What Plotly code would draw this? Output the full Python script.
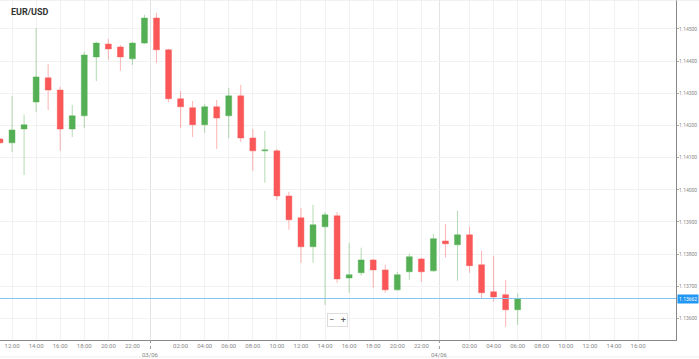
import plotly.graph_objects as go

# hours relative to 03/06 00:00
hours = list(range(-13, 31))
opens = [1.14158, 1.14146, 1.14189, 1.14273, 1.14348, 1.14310, 1.14189, 1.14230, 1.14413, 1.14453,
         1.14444, 1.14407, 1.14456, 1.14534, 1.14435, 1.14283, 1.14255, 1.14202, 1.14258, 1.14230,
         1.14292, 1.14161, 1.14121, 1.14121, 1.13981, 1.13913, 1.13823, 1.13885, 1.13919, 1.13726,
         1.13742, 1.13782, 1.13751, 1.13689, 1.13745, 1.13785, 1.13748, 1.13841, 1.13829, 1.13860,
         1.13767, 1.13683, 1.13674, 1.13627]
highs = [1.14161, 1.14292, 1.14233, 1.14503, 1.14391, 1.14320, 1.14264, 1.14429, 1.14460, 1.14469,
         1.14450, 1.14460, 1.14544, 1.14550, 1.14438, 1.14307, 1.14276, 1.14267, 1.14279, 1.14317,
         1.14326, 1.14189, 1.14183, 1.14127, 1.13994, 1.13944, 1.13953, 1.13931, 1.13931, 1.13835,
         1.13820, 1.13785, 1.13767, 1.13745, 1.13801, 1.13789, 1.13863, 1.13894, 1.13935, 1.13885,
         1.13810, 1.13795, 1.13720, 1.13677]
lows = [1.14143, 1.14118, 1.14046, 1.14242, 1.14248, 1.14121, 1.14164, 1.14192, 1.14338, 1.14404,
        1.14370, 1.14388, 1.14453, 1.14394, 1.14273, 1.14192, 1.14164, 1.14177, 1.14127, 1.14161,
        1.14149, 1.14059, 1.14022, 1.13969, 1.13876, 1.13773, 1.13773, 1.13642, 1.13711, 1.13680,
        1.13733, 1.13695, 1.13680, 1.13686, 1.13720, 1.13714, 1.13745, 1.13789, 1.13717, 1.13742,
        1.13661, 1.13652, 1.13574, 1.13580]
closes = [1.14146, 1.14186, 1.14202, 1.14351, 1.14310, 1.14189, 1.14230, 1.14419, 1.14456, 1.14438,
          1.14413, 1.14456, 1.14534, 1.14435, 1.14283, 1.14258, 1.14202, 1.14258, 1.14223, 1.14292,
          1.14161, 1.14121, 1.14124, 1.13981, 1.13907, 1.13823, 1.13891, 1.13922, 1.13723, 1.13736,
          1.13782, 1.13751, 1.13689, 1.13736, 1.13792, 1.13745, 1.13848, 1.13832, 1.13860, 1.13764,
          1.13680, 1.13667, 1.13627, 1.13662]

current_price = 1.13662
x_tick_vals = [-12, -10, -8, -6, -4, -2, 2, 4, 6, 8, 10, 12, 14, 16, 18, 20, 22,
               26, 28, 30, 32, 34, 36, 38, 40]
x_tick_text = ["12:00", "14:00", "16:00", "18:00", "20:00", "22:00", "02:00", "04:00", "06:00",
               "08:00", "10:00", "12:00", "14:00", "16:00", "18:00", "20:00", "22:00",
               "02:00", "04:00", "06:00", "08:00", "10:00", "12:00", "14:00", "16:00"]
date_pos = [-0.5, 23.5]
date_labels = ["03/06", "04/06"]
y_tick_vals = [1.136, 1.137, 1.138, 1.139, 1.140, 1.141, 1.142, 1.143, 1.144, 1.145]

GREEN = "#55b055"
RED = "#fa5858"
FONT = "Roboto"

fig = go.Figure()
fig.add_trace(go.Candlestick(
    x=hours, open=opens, high=highs, low=lows, close=closes,
    increasing=dict(line=dict(color="rgba(85,176,85,0.45)", width=1), fillcolor=GREEN),
    decreasing=dict(line=dict(color="rgba(250,88,88,0.45)", width=1), fillcolor=RED),
    whiskerwidth=0, showlegend=False, hoverinfo="skip",
))

shapes = []
for d in date_pos:
    shapes.append(dict(type="line", xref="x", yref="paper", x0=d, x1=d, y0=0, y1=1,
                       line=dict(color="#e2e2e2", width=1), layer="below"))
    shapes.append(dict(type="line", xref="x", yref="paper", x0=d, x1=d, y0=0, y1=-0.03,
                       line=dict(color="#999", width=1, dash="dot")))
shapes.append(dict(type="line", xref="paper", yref="y", x0=0, x1=1, y0=current_price, y1=current_price,
                   line=dict(color="#86c5f2", width=1)))
shapes.append(dict(type="line", xref="paper", yref="paper", x0=-0.01, x1=1.04, y0=1, y1=1,
                   line=dict(color="#e6e6e6", width=1)))
shapes.append(dict(type="line", xref="paper", yref="paper", x0=-0.01, x1=1.04, y0=-(357-340)/340,
                   y1=-(357-340)/340, line=dict(color="#eeeeee", width=1)))

annotations = [
    dict(text="<b>EUR/USD</b>", xref="paper", yref="paper", x=9/676, y=1-12/340,
         xanchor="left", yanchor="middle", showarrow=False,
         font=dict(family=FONT, size=9, color="#333")),
    dict(text=f"{current_price:.5f}", xref="paper", yref="y", x=1.002, y=current_price,
         xanchor="left", yanchor="middle", showarrow=False, bgcolor="#2196f3",
         borderpad=1, font=dict(family=FONT, size=5, color="white")),
    dict(text="−&nbsp;&nbsp;&nbsp;+", xref="paper", yref="paper", x=337/676, y=1-320/340,
         xanchor="center", yanchor="middle", showarrow=False, bgcolor="white",
         bordercolor="#ddd", borderwidth=1, borderpad=1,
         font=dict(family=FONT, size=9, color="#555")),
]
for d, lab in zip(date_pos, date_labels):
    annotations.append(dict(text=lab, xref="x", yref="paper", x=d, y=-(354-340)/340,
                            xanchor="center", yanchor="middle", showarrow=False,
                            font=dict(family=FONT, size=6, color="#888")))

fig.update_layout(
    width=699, height=359,
    margin=dict(l=0, r=23, t=0, b=19, autoexpand=False),
    paper_bgcolor="white", plot_bgcolor="white",
    font=dict(family=FONT, size=6, color="#888"),
    shapes=shapes, annotations=annotations,
    boxgap=0.3,
    xaxis=dict(range=[-13.0, 43.15], tickvals=x_tick_vals, ticktext=x_tick_text,
               showgrid=True, gridcolor="#f2f2f2", gridwidth=1,
               showline=True, linecolor="#888", linewidth=1,
               ticks="", tickfont=dict(size=6, color="#888"), automargin=False,
               rangeslider=dict(visible=False), zeroline=False, fixedrange=True),
    yaxis=dict(range=[1.13533, 1.14590], side="right", tickvals=y_tick_vals, tickformat=".5f",
               showgrid=True, gridcolor="#f2f2f2", gridwidth=1,
               showline=True, linecolor="#888", linewidth=1,
               ticks="outside", ticklen=2, tickcolor="#aaa", automargin=False,
               ticklabelstandoff=-1,
               tickfont=dict(size=5, color="#888"), zeroline=False, fixedrange=True),
)

fig.write_html("out.html", config={"displayModeBar": False},
               post_script="document.body.style.margin='0';document.body.style.overflow='hidden';")
